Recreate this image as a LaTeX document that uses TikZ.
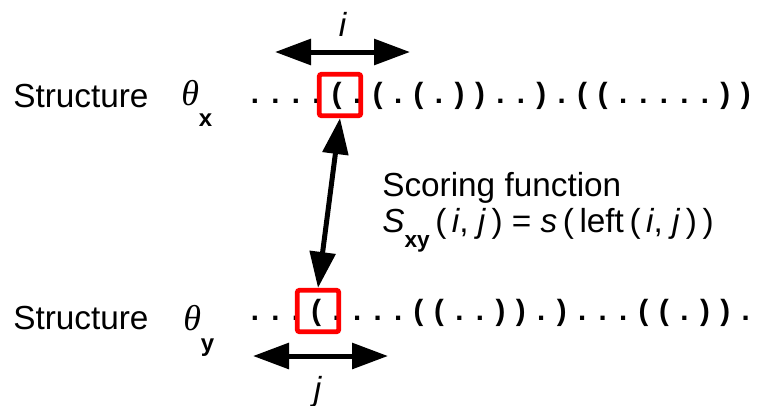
\documentclass[tikz,border=0pt]{standalone}
\usepackage{fontspec}
\setmainfont{Liberation Sans}
\newfontfamily\thetafont{Liberation Serif}
\usetikzlibrary{arrows.meta,positioning,calc}
\tikzset{
	lbl/.style={font=\fontsize{25}{27}\selectfont, inner sep=0pt},
	seqchar/.style={font=\fontsize{22}{24}\selectfont\bfseries, inner sep=0pt, anchor=base},
	selbox/.style={draw=red, line width=3.6pt, rounded corners=1.5pt, inner sep=0pt,
		minimum width=31pt, minimum height=31pt},
	dblarrow/.style={{Triangle[length=27pt,width=19pt]}-{Triangle[length=27pt,width=19pt]},
		line width=3.75pt},
}
% L = (, R = ), d = .
\newcommand\seqsym[1]{\if L#1(\else\if R#1)\else.\fi\fi}
\newcommand\thetasub[1]{{\fontsize{27}{27}\selectfont\thetafont\itshape θ}\raisebox{-16pt}{\fontsize{18}{18}\selectfont\bfseries #1}}

\begin{document}
\begin{tikzpicture}[x=0.75pt, y=-0.75pt]
	\useasboundingbox (0,0) rectangle (757,405);
	
	%% -- Row labels
	\node[lbl, anchor=base west] (strx) at (13,107) {Structure};
	\node[lbl, anchor=base west] (stry) at (13,329) {Structure};
	\node[lbl, anchor=base west] (thetax) at (181,105) {\thetasub{x}};
	\node[lbl, anchor=base west] (thetay) at (183,330) {\thetasub{y}};
	
	%% -- Dot-bracket strings
	\foreach \c [count=\k from 0] in {d,d,d,d,L,d,L,d,L,d,R,R,d,d,R,d,L,L,d,d,d,d,d,R,R}
		\node[seqchar] (sx\k) at (255+20.45*\k,103.5) {\seqsym{\c}};
	\foreach \c [count=\k from 0] in {d,d,d,L,d,d,d,d,L,L,d,d,R,R,d,R,d,d,d,L,L,d,R,R,d}
		\node[seqchar] (sy\k) at (255+20.45*\k,320.5) {\seqsym{\c}};
	
	%% -- Selected positions
	\node[selbox] (boxx) at (340,95) {};
	\node[selbox] (boxy) at (318,311) {};
	
	%% -- Position arrows i and j
	\coordinate (il) at (275,52);
	\coordinate (ir) at (410,52);
	\draw[dblarrow] (il) -- (ir);
	\node[lbl, anchor=base] (ilab) at (343,36) {\textit{i}};
	
	\coordinate (jl) at (253,356);
	\coordinate (jr) at (388,356);
	\draw[dblarrow] (jl) -- (jr);
	\node[lbl, anchor=base] (jlab) at (318,400) {\textit{j}};
	
	%% -- Pairing arrow
	\draw[dblarrow] (boxx.south) -- (boxy.north);
	
	%% -- Scoring function
	\node[lbl, anchor=north west, align=left] (score) at (382,172)
	{
		Scoring function\\
		\textit{S}\raisebox{-11pt}{\fontsize{17}{17}\selectfont\bfseries xy}\,(\,\textit{i}, \textit{j}\,) = \textit{s}\,(\,left\,(\,\textit{i}, \textit{j}\,)\,)
	};
	
\end{tikzpicture}
\end{document}
